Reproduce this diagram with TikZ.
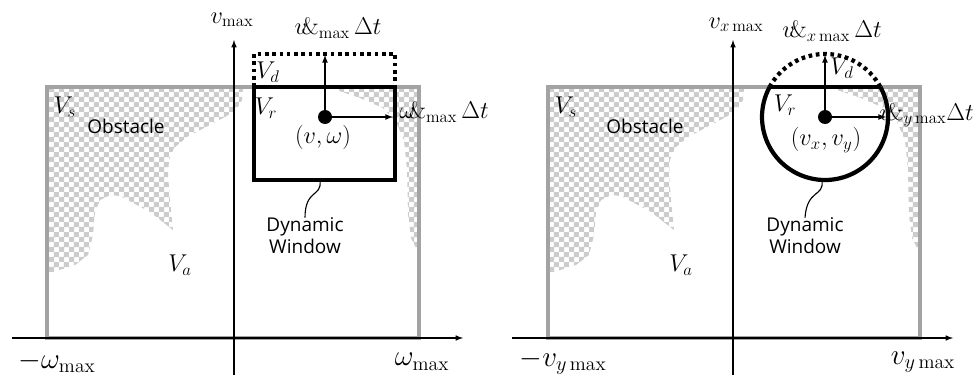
\documentclass[tikz,border=0pt]{standalone}
\usepackage{amsmath,amssymb}
\usepackage{fontspec}
\newfontfamily\labelfont{Open Sans}
\usepackage{tikz}
\usetikzlibrary{arrows, patterns, positioning}

% checker pattern for the obstacle areas
\pgfdeclarepatternformonly{checks}{\pgfpointorigin}{\pgfqpoint{7.1pt}{7.1pt}}{\pgfqpoint{7.1pt}{7.1pt}}{%
  \pgfpathrectangle{\pgfpointorigin}{\pgfqpoint{3.6pt}{3.6pt}}%
  \pgfpathrectangle{\pgfqpoint{3.55pt}{3.55pt}}{\pgfqpoint{3.6pt}{3.6pt}}%
  \pgfusepath{fill}}

\tikzstyle{axis} = [line width=0.8pt,->,>=latex]
\tikzstyle{rate} = [line width=0.9pt,->,>=latex]
\tikzstyle{region} = [draw=black!36, line width=2.3pt]
\tikzstyle{window} = [line width=3pt]
\tikzstyle{obst} = [pattern=checks, pattern color=black!20]
\tikzstyle{mlbl} = [font=\fontsize{17}{20}\selectfont, inner sep=0pt]
\tikzstyle{biglbl} = [font=\fontsize{20}{24}\selectfont, inner sep=0pt]
\tikzstyle{txt} = [font=\labelfont\fontsize{13.5}{15.6}\selectfont, align=center, inner sep=0pt]

\begin{document}
\begin{tikzpicture}[x=0.025cm, y=-0.025cm]
    \useasboundingbox (0,0) rectangle (977,381);

    % Obstacles (same shape in both panels)
    \foreach \dx in {0,501} {
        \begin{scope}[shift={(\dx,0)}]
            \fill[obst] (47,88) -- (243,88) -- (242,100) -- (236,110) -- (225,117) -- (187,137)
                -- (174,148) -- (169,160) -- (168,175) -- (170,200) -- (173,230) -- (150,212)
                -- (120,196) -- (110,195) -- (100,200) -- (95,212) -- (93,235) -- (88,255)
                -- (75,265) -- (50,273) -- (47,273) -- cycle;
            \fill[obst] (330,88) -- (419,88) -- (419,250) -- (417,250) -- (411,238) -- (408,215)
                -- (407,170) -- (404,140) -- (396,122) -- (383,108) -- (360,98) -- cycle;
        \end{scope}
    }

    % Left panel: admissible region and axes
    \draw[region] (47,87) rectangle (419,338);
    \coordinate (xl) at (12,338);
    \coordinate (xr) at (463,338);
    \coordinate (yb) at (234,375);
    \coordinate (yt) at (234,40);
    \draw[axis] (xl) -- (xr);
    \draw[axis] (yb) -- (yt);

    % Left panel: dynamic window
    \draw[window] (254,87) rectangle (395,180);
    \draw[window, dash pattern=on 2.6pt off 2.6pt] (254,87) -- (254,54) -- (395,54) -- (395,87);
    \node[circle, fill, inner sep=0pt, minimum size=0.35cm] (vw) at (325,117) {};
    \coordinate (vwup) at (325,55);
    \coordinate (vwright) at (393,117);
    \draw[rate] (vw) -- (vwup);
    \draw[rate] (vw) -- (vwright);

    % Left panel: labels
    \node[mlbl] (vmax) at (232,20) {$v_{\max}$};
    \node[mlbl] (vrate) at (338,28) {\rlap{$v$}\kern0.3em\&$_{\max}\,\Delta t$};
    \node[mlbl, anchor=west] (wrate) at (399,112) {\rlap{$\omega$}\kern0.4em\&$_{\max}\,\Delta t$};
    \node[mlbl] (vd) at (268,72) {$V_d$};
    \node[mlbl] (vr) at (266,108) {$V_r$};
    \node[mlbl] (st) at (323,137) {$(v,\omega)$};
    \node[mlbl] (vs) at (65,107) {$V_s$};
    \node[txt] (obs) at (126,126) {Obstacle};
    \node[mlbl] (va) at (180,265) {$V_a$};
    \node[biglbl] (wmin) at (57,362) {$-\omega_{\max}$};
    \node[biglbl] (wmax) at (422,362) {$\omega_{\max}$};
    \node[txt] (dw) at (305,236) {Dynamic\\Window};
    \coordinate (wb) at (320,181);
    \draw[line width=0.8pt] (wb) .. controls (322,197) and (305,189) .. (dw.north);

    % Right panel: admissible region and axes
    \draw[region] (548,87) rectangle (920,338);
    \coordinate (xl2) at (512,338);
    \coordinate (xr2) at (953,338);
    \coordinate (yb2) at (733,375);
    \coordinate (yt2) at (733,40);
    \draw[axis] (xl2) -- (xr2);
    \draw[axis] (yb2) -- (yt2);

    % Right panel: dynamic window
    \draw[window] (770,87) -- (880,87);
    \draw[window] (825,117) ++(-28.4:63) arc[start angle=-28.4, end angle=208.4, radius=63];
    \draw[window, dash pattern=on 2.6pt off 2.6pt] (825,117) ++(208.4:63) arc[start angle=208.4, end angle=331.6, radius=63];
    \node[circle, fill, inner sep=0pt, minimum size=0.35cm] (vxy) at (825,117) {};
    \coordinate (vxyup) at (825,55);
    \coordinate (vxyright) at (886,117);
    \draw[rate] (vxy) -- (vxyup);
    \draw[rate] (vxy) -- (vxyright);

    % Right panel: labels
    \node[mlbl] (vxmax) at (736,25) {$v_{x\max}$};
    \node[mlbl] (vxrate) at (832,31) {\rlap{$v$}\kern0.3em\&$_{x\max}\,\Delta t$};
    \node[mlbl, anchor=east] (vyrate) at (974,115) {\rlap{$v$}\kern0.3em\&$_{y\max}\Delta t$};
    \node[mlbl] (vd2) at (842,68) {$V_d$};
    \node[mlbl] (vr2) at (785,105) {$V_r$};
    \node[mlbl] (st2) at (826,140) {$\left(v_x, v_y\right)$};
    \node[mlbl] (vs2) at (566,107) {$V_s$};
    \node[txt] (obs2) at (645,126) {Obstacle};
    \node[mlbl] (va2) at (681,265) {$V_a$};
    \node[biglbl] (vymin) at (563,362) {$-v_{y\max}$};
    \node[biglbl] (vymax) at (923,362) {$v_{y\max}$};
    \node[txt] (dw2) at (805,236) {Dynamic\\Window};
    \coordinate (wb2) at (822,181);
    \draw[line width=0.8pt] (wb2) .. controls (824,197) and (807,189) .. (dw2.north);
\end{tikzpicture}
\end{document}
